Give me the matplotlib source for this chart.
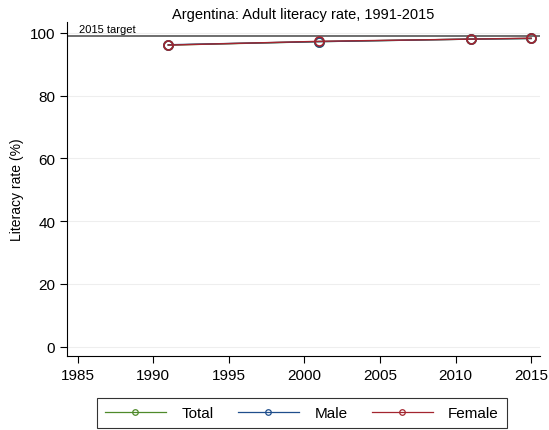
import matplotlib
matplotlib.use("Agg")
import matplotlib.pyplot as plt
from matplotlib.lines import Line2D

years = [1991, 2001, 2011, 2015]
total = [96.1, 97.2, 98.0, 98.2]
male = [96.2, 97.2, 98.0, 98.2]
female = [96.1, 97.3, 98.0, 98.3]
target = 98.9

names = ['Total', 'Male', 'Female']
colors = ['#4f8a2a', '#1f4e8c', '#a3252f']

plt.rcParams['font.family'] = ['Liberation Sans', 'DejaVu Sans']

fig = plt.figure(figsize=(5.49, 4.31), dpi=100)
ax = fig.add_axes([0.122, 0.172, 0.862, 0.775])

for y in range(0, 101, 20):
    ax.axhline(y, color='#eeeeee', lw=0.8, zorder=0)

ax.axhline(target, color='#555555', lw=1.2, zorder=1)
ax.text(1985.1, target + 0.6, '2015 target', fontsize=8, va='bottom', ha='left')

for i, vals in enumerate([total, male, female]):
    ax.plot(years, vals, color=colors[i], lw=1, marker='o', mfc='none', ms=6.5, mew=1.2, zorder=2 + i)

ax.set_xlim(1984.3, 2015.6)
ax.set_ylim(-2.9, 103.5)
ax.set_xticks(range(1985, 2016, 5))
ax.set_yticks(range(0, 101, 20))
ax.tick_params(labelsize=11, length=5, color='black')
ax.spines['top'].set_visible(False)
ax.spines['right'].set_visible(False)
ax.set_ylabel('Literacy rate (%)', fontsize=10)
ax.set_title('Argentina: Adult literacy rate, 1991-2015', fontsize=10.5, pad=3)

handles = [Line2D([], [], color=c, lw=0.9, marker='o', mfc='none', ms=4, mew=0.9) for c in colors]
leg = fig.legend(handles, names, loc='lower center', bbox_to_anchor=(0.55, 0.0), ncol=3, fontsize=11,
                 frameon=True, fancybox=False, edgecolor='black', handlelength=4.0,
                 columnspacing=1.6, handletextpad=1.0, borderpad=0.55, borderaxespad=0.1)
leg.get_frame().set_linewidth(0.8)

fig.savefig('out.png', dpi=100)
